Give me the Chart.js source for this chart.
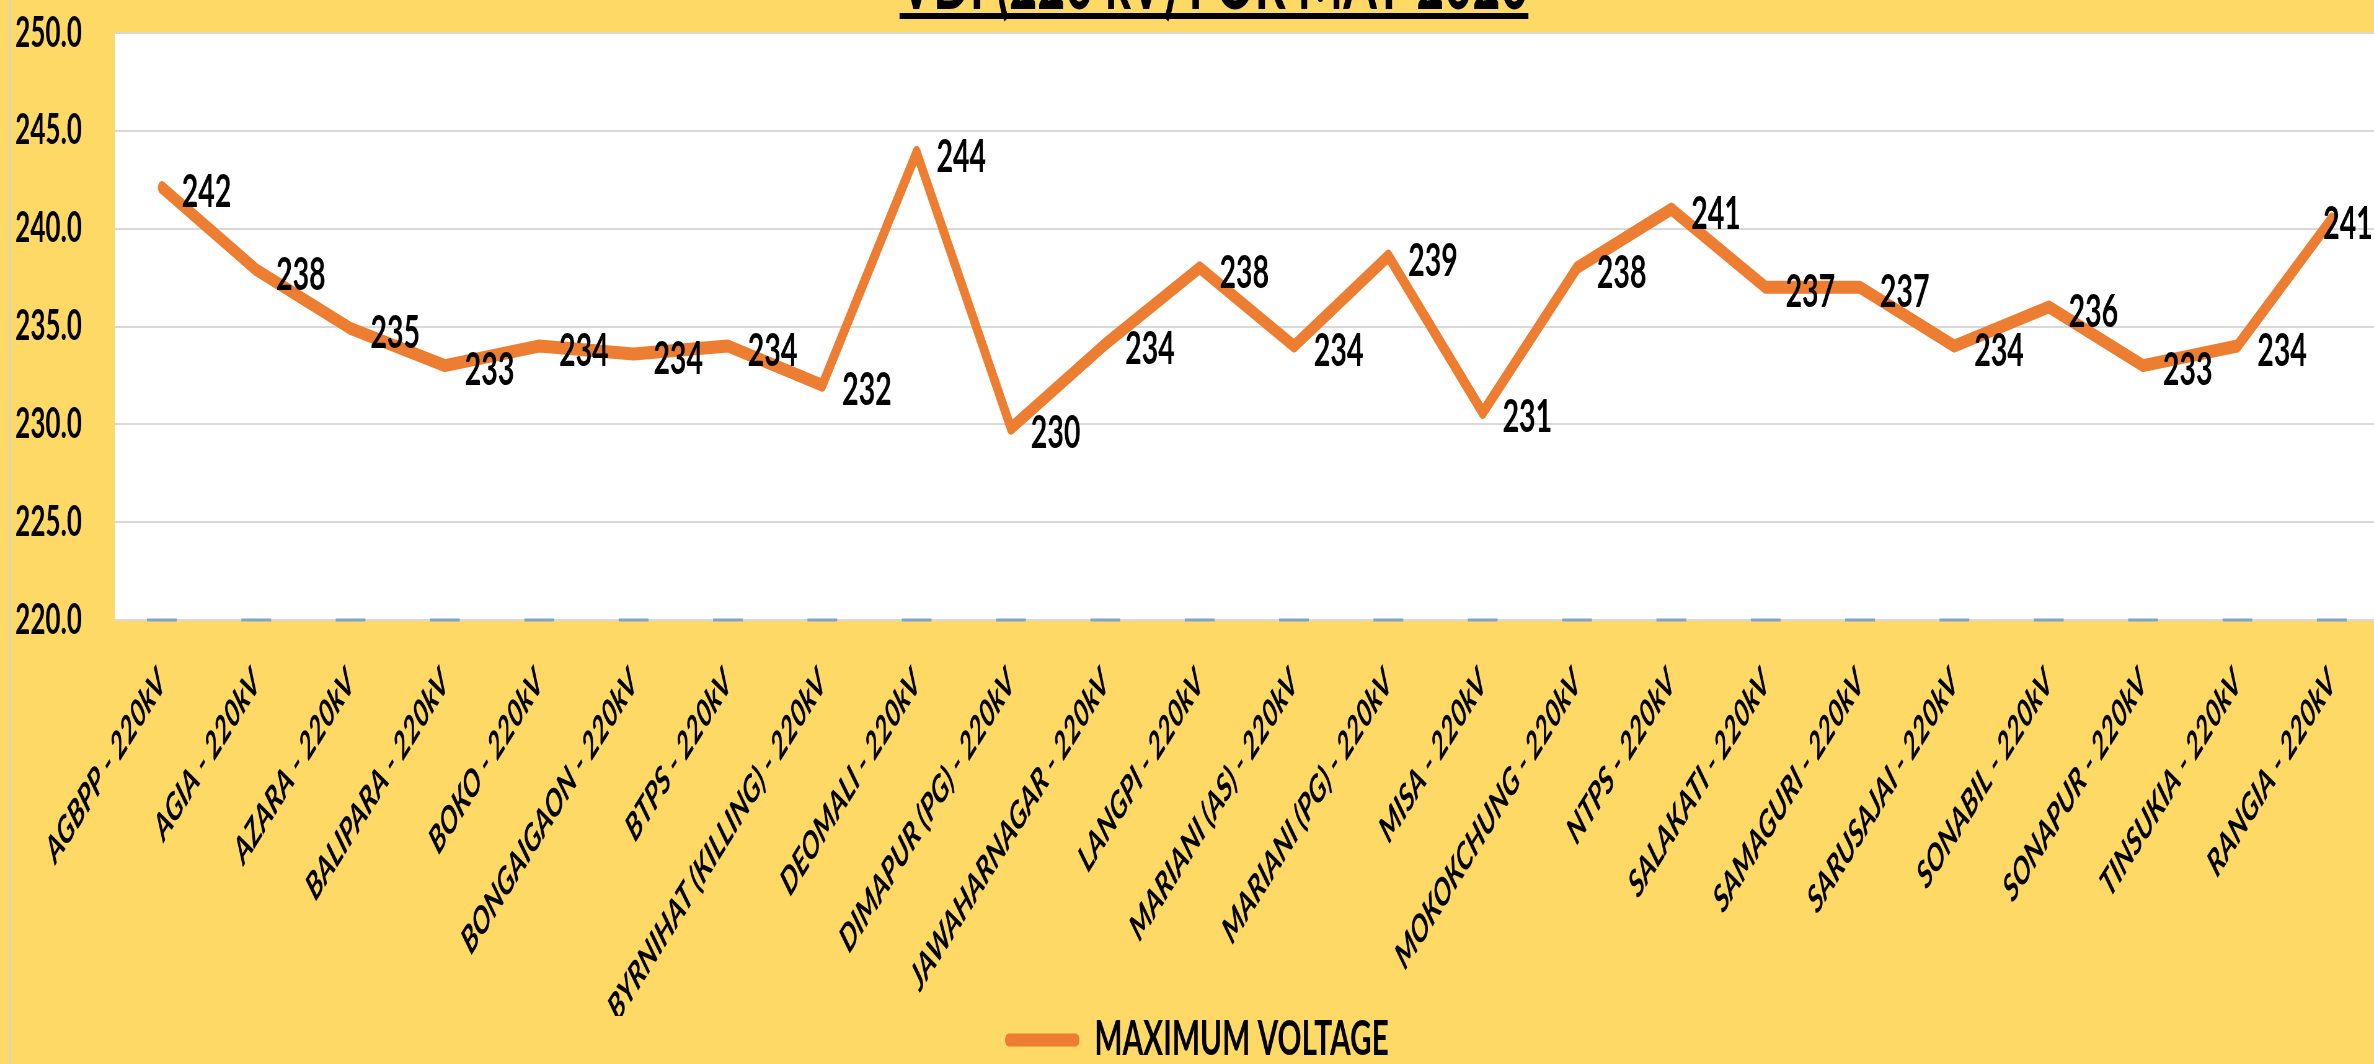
<!DOCTYPE html>
<html>
<head>
<meta charset="utf-8">
<script src="https://cdn.jsdelivr.net/npm/chart.js@4.4.0/dist/chart.umd.min.js"></script>
<style>
  html, body { margin: 0; padding: 0; width: 2374px; height: 1064px; overflow: hidden; background: #FFD966; }
  #edge { position: absolute; left: 9px; top: 0; width: 2px; height: 1064px; background: #d2d2d2; z-index: 2; }
  /* the reference is a horizontally squeezed Excel chart, so draw wide and squeeze */
  #wrap { position: absolute; left: 0; top: 0; width: 3916px; height: 1064px; transform: scaleX(0.62); transform-origin: 0 0; }
</style>
</head>
<body>
<div id="edge"></div>
<div id="wrap"><canvas id="chart" width="3916" height="1064"></canvas></div>
<script>
// --- Data ---------------------------------------------------------------

const titleText = "VDI (220 kV) FOR MAY 2020";

const stations = [
  "AGBPP - 220kV", "AGIA - 220kV", "AZARA - 220kV", "BALIPARA - 220kV",
  "BOKO - 220kV", "BONGAIGAON - 220kV", "BTPS - 220kV", "BYRNIHAT (KILLING) - 220kV",
  "DEOMALI - 220kV", "DIMAPUR (PG) - 220kV", "JAWAHARNAGAR - 220kV", "LANGPI - 220kV",
  "MARIANI (AS) - 220kV", "MARIANI (PG) - 220kV", "MISA - 220kV", "MOKOKCHUNG - 220kV",
  "NTPS - 220kV", "SALAKATI - 220kV", "SAMAGURI - 220kV", "SARUSAJAI - 220kV",
  "SONABIL - 220kV", "SONAPUR - 220kV", "TINSUKIA - 220kV", "RANGIA - 220kV",
];

const maxVoltage = [
  242.1, 237.9, 234.9, 233.0, 234.0, 233.6, 234.0, 232.0,
  243.9, 229.8, 234.1, 238.0, 234.0, 238.6, 230.6, 238.0,
  241.0, 237.0, 237.0, 234.0, 236.0, 233.0, 234.0, 240.5,
];

// second series sits on the axis floor (shown only as dash markers)
const nominalVoltage = [
  220, 220, 220, 220, 220, 220, 220, 220,
  220, 220, 220, 220, 220, 220, 220, 220,
  220, 220, 220, 220, 220, 220, 220, 220,
];

const yMin = 220;
const yMax = 250;
const yStep = 5;

// visible part of the (squeezed) canvas, in canvas pixels
const visibleWidth = 2374 / 0.62;

// --- Plugins -------------------------------------------------------------

const plotBackground = {
  id: "plotBackground",
  beforeDraw(chart) {
    const { ctx, chartArea: a } = chart;
    ctx.save();
    ctx.fillStyle = "#ffffff";
    ctx.fillRect(a.left, a.top, a.right - a.left, a.bottom - a.top);
    ctx.restore();
  },
};

const valueLabels = {
  id: "valueLabels",
  afterDatasetsDraw(chart) {
    const ctx = chart.ctx;
    const meta = chart.getDatasetMeta(0);
    ctx.save();
    ctx.font = "bold 46px Lato";
    ctx.fillStyle = "#000";
    ctx.textAlign = "left";
    ctx.textBaseline = "middle";
    meta.data.forEach((pt, i) => {
      const text = maxVoltage[i].toFixed(0);
      // keep the label inside the visible frame, like Excel does at the edge
      const x = Math.min(pt.x + 32, visibleWidth - ctx.measureText(text).width - 2);
      ctx.fillText(text, x, pt.y + 5);
    });
    ctx.restore();
  },
};

const underlinedTitle = {
  id: "underlinedTitle",
  afterDraw(chart) {
    const { ctx, chartArea } = chart;
    ctx.save();
    ctx.font = "bold 78px Lato";
    ctx.fillStyle = "#000";
    ctx.textAlign = "center";
    ctx.textBaseline = "alphabetic";
    const cx = chart.width / 2;
    const w = ctx.measureText(titleText).width;
    ctx.fillText(titleText, cx, chartArea.top - 24);
    ctx.fillRect(cx - w / 2, chartArea.top - 20, w, 6);
    ctx.restore();
  },
};

// --- Chart -------------------------------------------------------------

new Chart(document.querySelector("#chart"), {
  type: "line",
  data: {
    labels: stations,
    datasets: [
      {
        label: "MAXIMUM VOLTAGE",
        data: maxVoltage,
        borderColor: "#ED7D31",
        backgroundColor: "#ED7D31",
        borderWidth: 13,
        borderJoinStyle: "round",
        borderCapStyle: "round",
        pointRadius: 0,
        tension: 0,
      },
      {
        label: "NOMINAL",
        data: nominalVoltage,
        showLine: false,
        pointStyle: "line",
        pointRadius: 24,
        pointBorderWidth: 3,
        pointBorderColor: "#7FA3CC",
        borderColor: "#7FA3CC",
        clip: false,
      },
    ],
  },
  options: {
    responsive: false,
    devicePixelRatio: 1,
    animation: false,
    layout: { padding: { top: 33, left: 24, right: 79, bottom: -10 } },
    plugins: {
      tooltip: { enabled: false },
      legend: {
        position: "bottom",
        labels: {
          filter: (item) => item.datasetIndex === 0,
          generateLabels: (chart) =>
            Chart.defaults.plugins.legend.labels.generateLabels(chart)
              .map((l) => ({ ...l, lineWidth: 0, fillStyle: "#ED7D31" })),
          boxWidth: 120,
          boxHeight: 13,
          useBorderRadius: true,
          borderRadius: 6,
          color: "#000",
          padding: 0,
          font: { family: "Lato", size: 48, weight: "bold" },
        },
      },
    },
    scales: {
      x: {
        offset: true,
        grid: { display: false, drawTicks: false },
        border: { display: false },
        afterFit: (s) => {
          s.paddingLeft = 0;
          s.paddingRight = 0;
          const legendH = (s.chart.legend && s.chart.legend.height) || 58;
          s.height = s.chart.height + 10 - legendH - 620;
        },
        ticks: {
          autoSkip: false,
          minRotation: 45,
          maxRotation: 45,
          padding: 40,
          color: "#000",
          font: { family: "Lato", size: 38, weight: "bold", style: "italic" },
        },
      },
      y: {
        min: yMin,
        max: yMax,
        border: { display: false },
        grid: { color: "#D9D9D9", lineWidth: 2, drawTicks: false },
        afterFit: (s) => {
          s.paddingTop = 0;
          s.paddingBottom = 0;
          s.width = 161;
        },
        ticks: {
          stepSize: yStep,
          padding: 53,
          color: "#000",
          font: { family: "Lato", size: 42, weight: "bold" },
          callback: (v) => Number(v).toFixed(1),
        },
      },
    },
  },
  plugins: [plotBackground, valueLabels, underlinedTitle],
});
</script>
</body>
</html>
